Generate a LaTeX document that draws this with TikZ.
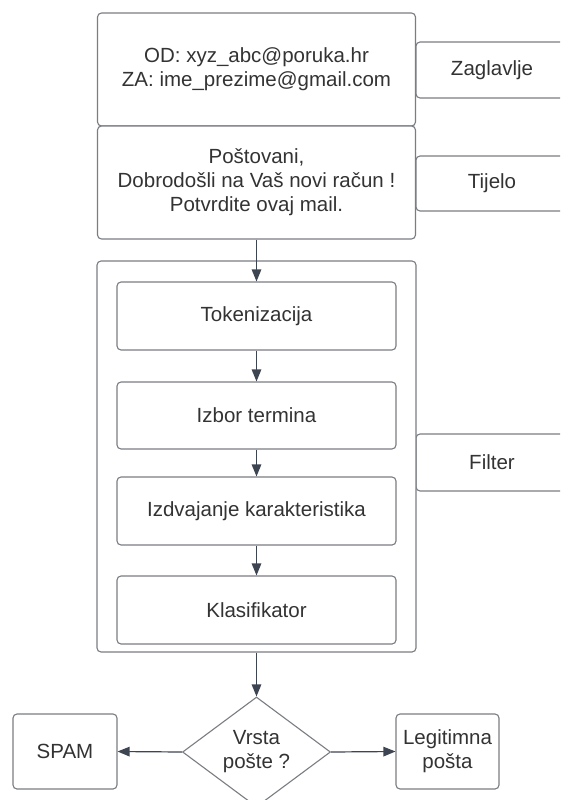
\documentclass[tikz,border=0pt]{standalone}
\usepackage{fontspec}
\setmainfont{Liberation Sans}
\usetikzlibrary{shapes.geometric,arrows.meta}
\definecolor{boxline}{HTML}{7A7D82}
\definecolor{arrline}{HTML}{3D4452}
\definecolor{txt}{HTML}{333333}
\tikzset{
  box/.style={draw=boxline, line width=1.1pt, rounded corners=4pt, fill=white,
    inner sep=0pt, align=center, text=txt,
    font=\fontsize{20.5}{24}\selectfont},
  decbox/.style={draw=boxline, line width=1.1pt, shape=diamond, fill=white,
    inner sep=0pt, align=center, text=txt,
    font=\fontsize{20.5}{24}\selectfont},
  arr/.style={draw=arrline, line width=1.2pt,
    -{Triangle[length=12pt,width=9.5pt]}},
}
\begin{document}
\begin{tikzpicture}[x=1pt,y=-1pt]
\useasboundingbox (0,0) rectangle (560,800);
\clip (0,0) rectangle (560,800);
\fill[white] (0,0) rectangle (560,800);
% top section
\node[box, minimum width=318pt, minimum height=113pt] (hdr) at (256.5,69.5)
  {OD: xyz\_abc@poruka.hr\\ZA: ime\_prezime@gmail.com};
\node[box, minimum width=318pt, minimum height=113pt] (body) at (256.5,182.5)
  {Poštovani,\\Dobrodošli na Vaš novi račun !\\Potvrdite ovaj mail.};
% side labels
\node[box, minimum width=152pt, minimum height=56pt] (zag) at (492,70) {Zaglavlje};
\node[box, minimum width=152pt, minimum height=55pt] (tij) at (492,183.5) {Tijelo};
\node[box, minimum width=152pt, minimum height=57pt] (fil) at (492,462.5) {Filter};
% filter container
\node[box, minimum width=319pt, minimum height=391pt] (outer) at (256.5,456.5) {};
\node[box, minimum width=279pt, minimum height=68pt] (tok) at (256.5,316) {Tokenizacija};
\node[box, minimum width=279pt, minimum height=67pt] (izb) at (256.5,415.5) {Izbor termina};
\node[box, minimum width=279pt, minimum height=68pt] (izd) at (256.5,511) {Izdvajanje karakteristika};
\node[box, minimum width=279pt, minimum height=68pt] (kla) at (256.5,610) {Klasifikator};
% decision
\node[decbox, minimum width=148pt, minimum height=110pt] (dec) at (256.5,752) {Vrsta\\pošte ?};
\node[box, minimum width=104pt, minimum height=75pt] (spam) at (65,751.5) {SPAM};
\node[box, minimum width=103pt, minimum height=75pt] (leg) at (447.5,751.5) {Legitimna\\pošta};
% connectors
\draw[arr] (body.south) -- (tok.north);
\draw[arr] (tok.south) -- (izb.north);
\draw[arr] (izb.south) -- (izd.north);
\draw[arr] (izd.south) -- (kla.north);
\draw[arr] (outer.south) -- (dec.north);
\draw[arr] (dec.west) -- (spam.east);
\draw[arr] (dec.east) -- (leg.west);
\end{tikzpicture}
\end{document}
